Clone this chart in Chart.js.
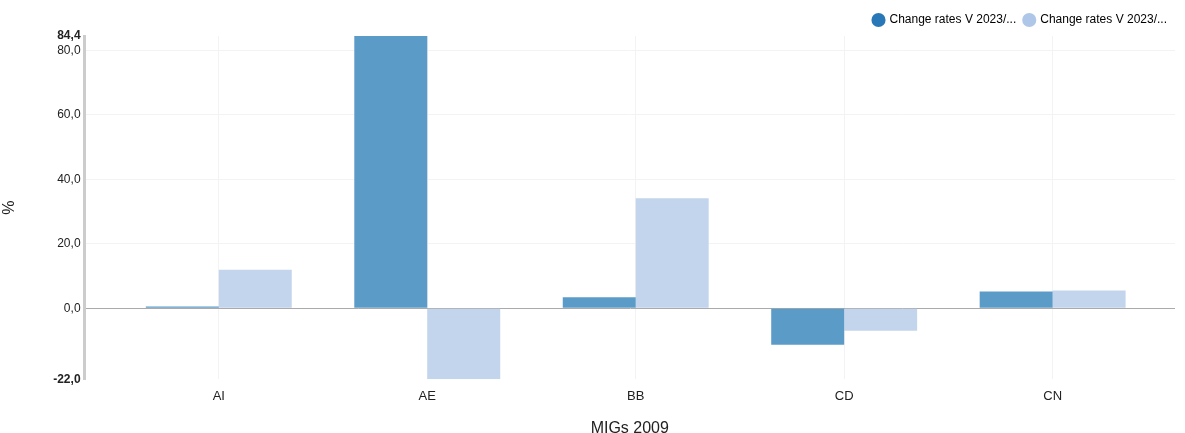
<!DOCTYPE html>
<html><head><meta charset="utf-8">
<script src="https://cdn.jsdelivr.net/npm/chart.js@4"></script>
<style>body{margin:0;background:#fff}#wrap{width:1185px;height:433px}</style>
</head><body><div id="wrap"><canvas id="c"></canvas></div>
<script>
const categories = ['AI', 'AE', 'BB', 'CD', 'CN'];
const seriesA = [0.5, 84.4, 3.4, -11.3, 5.2];
const seriesB = [11.9, -22.0, 34.1, -7.0, 5.5];
const yTicks = [-22, 0, 20, 40, 60, 80, 84.4];
const seriesNames = ['Change rates V 2023/...', 'Change rates V 2023/...'];

const fmt = v => v.toFixed(1).replace('.', ',');
const ext = v => v === -22 || v === 84.4;
const tv = c => (c && c.tick) ? c.tick.value : null;

new Chart(document.getElementById('c'), {
  type: 'bar',
  data: {
    datasets: [
      { label: seriesNames[0], data: seriesA.map((v, i) => ({ x: i, y: v })), backgroundColor: '#5b9bc8', borderColor: '#2878b8' },
      { label: seriesNames[1], data: seriesB.map((v, i) => ({ x: i, y: v })), backgroundColor: '#c3d5ec', borderColor: '#aec7e8' }
    ]
  },
  options: {
    responsive: true, maintainAspectRatio: false, animation: false,
    layout: { padding: { left: 0, right: 10, top: 6, bottom: 0 } },
    datasets: { bar: { categoryPercentage: 0.7, barPercentage: 1 } },
    plugins: {
      legend: {
        align: 'end',
        labels: {
          usePointStyle: true, pointStyle: 'circle', boxWidth: 10, boxHeight: 10, padding: 8,
          font: { family: 'Liberation Sans, Arial', size: 12 }, color: '#222',
          generateLabels: ch => ch.data.datasets.map((d, i) => ({
            text: d.label, fillStyle: i === 0 ? '#2878b8' : '#aec7e8', strokeStyle: 'transparent',
            pointStyle: 'circle', datasetIndex: i, lineWidth: 0
          }))
        }
      },
      tooltip: { enabled: false }
    },
    scales: {
      x: {
        type: 'linear', min: -0.644, max: 4.587, offset: false,
        afterBuildTicks: s => { s.ticks = categories.map((_, i) => ({ value: i })); },
        ticks: { callback: v => categories[v] ?? '', padding: 9,
          color: '#222', font: { family: 'Liberation Sans, Arial', size: 13 } },
        grid: { color: '#f3f3f3', drawTicks: false, offset: false },
        border: { display: false },
        title: { display: true, text: 'MIGs 2009', color: '#222', font: { family: 'Liberation Sans, Arial', size: 16 }, padding: { top: 6, bottom: -5 } }
      },
      y: {
        min: -22, max: 84.4,
        afterBuildTicks: s => { s.ticks = yTicks.map(v => ({ value: v })); },
        ticks: { callback: v => fmt(v), color: '#222', padding: 4,
          font: c => ({ family: 'Liberation Sans, Arial', size: 12, weight: ext(tv(c)) ? 'bold' : 'normal' }) },
        grid: { color: c => tv(c) === 0 ? '#aaa' : (ext(tv(c)) ? 'transparent' : '#f3f3f3'), drawTicks: false },
        border: { color: '#ccc', width: 3 },
        title: { display: true, text: '%', color: '#222', font: { family: 'Liberation Sans, Arial', size: 16 }, padding: { top: 0, bottom: 30 } }
      }
    }
  }
});
</script></body></html>
